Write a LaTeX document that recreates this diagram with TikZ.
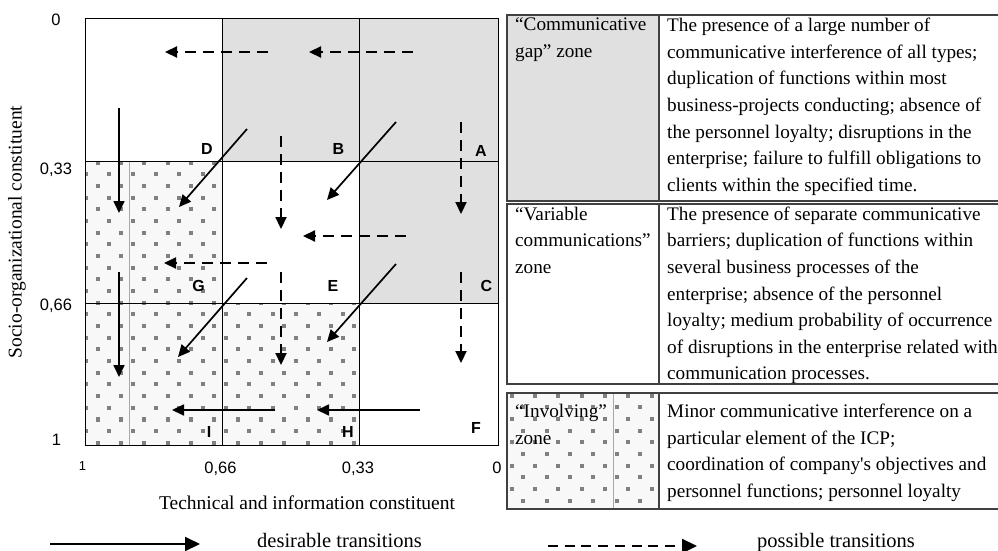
\documentclass[tikz,border=0pt]{standalone}
\usepackage{fontspec}
\setmainfont{Liberation Serif}
\newfontfamily\sansf{Liberation Sans}
\usetikzlibrary{arrows.meta}
\definecolor{zonegray}{HTML}{E0E0E0}
\definecolor{dotbg}{HTML}{F8F8F8}
\definecolor{dotsq}{HTML}{808080}
\definecolor{boxline}{HTML}{404040}
\definecolor{thingray}{HTML}{A8A8A8}
\begin{document}
\begin{tikzpicture}[x=1pt,y=-1pt,
  gridline/.style={line width=1pt, black},
  boxedge/.style={line width=1.3pt, boxline},
  desir/.style={line width=1.7pt, -{Triangle[length=12pt,width=11pt]}},
  possib/.style={line width=2.2pt, dash pattern=on 11pt off 7pt, -{Triangle[length=12pt,width=11pt]}},
  cellletter/.style={font=\sansf\bfseries\fontsize{16}{16}\selectfont, anchor=base, inner sep=0},
  axisnum/.style={font=\sansf\fontsize{16.5}{16.5}\selectfont, anchor=base, inner sep=0},
  desc/.style={font=\fontsize{19.2}{26.6}\selectfont, align=left, anchor=north west, inner sep=0},
  axislabel/.style={font=\fontsize{19.5}{19.5}\selectfont, inner sep=0},
  legendtxt/.style={font=\fontsize{20.5}{20.5}\selectfont, anchor=base west, inner sep=0},
]
\useasboundingbox (0,0) rectangle (998,551);
\fill[white] (0,0) rectangle (998,551);

% ---- grid cells ----
\fill[zonegray] (222,19) rectangle (498,161);
\fill[zonegray] (359,161) rectangle (498,303);

\begin{scope}
  \clip (85,161) rectangle (222,445) (222,303) rectangle (359,445);
  \fill[dotbg] (85,161) rectangle (359,445);
  \foreach \k in {-13,...,13}{
    \pgfmathsetmacro{\yy}{302.7+11.67*\k}
    \pgfmathsetmacro{\xo}{97.7-11.67*mod(abs(\k),2)}
    \foreach \m in {-1,...,12}{
      \fill[dotsq] ({\xo+23.33*\m-2.1},{\yy-2.1}) rectangle +(4.2,4.2);
    }
  }
\end{scope}
\draw[thingray, line width=0.8pt] (129,161) -- (129,445);

\draw[gridline] (85,19) rectangle (498,445);
\draw[gridline] (222,19) -- (222,445);
\draw[gridline] (359,19) -- (359,445);
\draw[gridline] (85,161) -- (498,161);
\draw[gridline] (85,303) -- (498,303);

% ---- cell letters ----
\node[cellletter] (lD) at (207,154) {D};
\node[cellletter] (lB) at (338.5,154) {B};
\node[cellletter] (lA) at (481,156) {A};
\node[cellletter] (lG) at (198.5,291) {G};
\node[cellletter] (lE) at (333,291) {E};
\node[cellletter] (lC) at (486.5,291) {C};
\node[cellletter] (lI) at (209,437) {I};
\node[cellletter] (lH) at (348,437) {H};
\node[cellletter] (lF) at (476,433) {F};

% ---- axis numbers ----
\node[axisnum] (y0) at (56,26) {0};
\node[axisnum] (y33) at (56,174) {0,33};
\node[axisnum] (y66) at (56,310) {0,66};
\node[axisnum] (y1) at (56.5,445) {1};
\node[axisnum, font=\sansf\fontsize{13}{13}\selectfont] (x1) at (82.5,470) {1};
\node[axisnum] (x66) at (220.5,473) {0,66};
\node[axisnum] (x33) at (358,473) {0,33};
\node[axisnum] (x0) at (497,473) {0};

\node[axislabel, rotate=90] (ylab) at (17,232) {Socio-organizational constituent};
\node[axislabel] (xlab) at (307,503) {Technical and information constituent};

% ---- arrow end points ----
\coordinate (s1a) at (119,108); \coordinate (s1b) at (119,213);
\coordinate (s2a) at (247,129); \coordinate (s2b) at (179,207);
\coordinate (s3a) at (396,122); \coordinate (s3b) at (327,200);
\coordinate (s4a) at (119,272); \coordinate (s4b) at (119,377);
\coordinate (s5a) at (247,278); \coordinate (s5b) at (178,357);
\coordinate (s6a) at (396,264); \coordinate (s6b) at (327,342);
\coordinate (s7a) at (275,410); \coordinate (s7b) at (172,410);
\coordinate (s8a) at (420,410); \coordinate (s8b) at (317,410);

\coordinate (d1a) at (268,52); \coordinate (d1b) at (165,52);
\coordinate (d2a) at (413,52); \coordinate (d2b) at (309,52);
\coordinate (d3a) at (281,136); \coordinate (d3b) at (281,229);
\coordinate (d4a) at (461,122); \coordinate (d4b) at (461,214);
\coordinate (d5a) at (406,236); \coordinate (d5b) at (303,236);
\coordinate (d6a) at (267,263); \coordinate (d6b) at (164,263);
\coordinate (d7a) at (281,272); \coordinate (d7b) at (281,365);
\coordinate (d8a) at (461,272); \coordinate (d8b) at (461,363);

\foreach \i in {1,...,8}{\draw[desir] (s\i a) -- (s\i b);}
\foreach \i in {1,...,8}{\draw[possib] (d\i a) -- (d\i b);}

% ---- legend boxes ----
\fill[zonegray] (507,15) rectangle (659,201);
\begin{scope}
  \clip (507,393) rectangle (659,509);
  \fill[dotbg] (507,393) rectangle (659,509);
  \foreach \k in {0,...,10}{
    \pgfmathsetmacro{\yy}{395.7+11.67*\k}
    \pgfmathsetmacro{\xo}{511.7+11.67*mod(\k,2)}
    \foreach \m in {-1,...,7}{
      \fill[dotsq] ({\xo+23.33*\m-2.1},{\yy-2.1}) rectangle +(4.2,4.2);
    }
  }
\end{scope}
\draw[thingray, line width=0.8pt] (613,393) -- (613,509);

\draw[boxedge] (1010,15) -- (507,15) -- (507,201) -- (1010,201);
\draw[boxedge] (659,15) -- (659,201);
\draw[boxedge] (1010,204) -- (507,204) -- (507,384) -- (1010,384);
\draw[boxedge] (659,204) -- (659,384);
\draw[boxedge] (1010,393) -- (507,393) -- (507,509) -- (1010,509);
\draw[boxedge] (659,393) -- (659,509);

\node[desc] (gapname) at (515,18) {“Communicative\\gap” zone};
\node[desc] (gaptext) at (667,18) {The presence of a large number of\\communicative interference of all types;\\duplication of functions within most\\business-projects conducting; absence of\\the personnel loyalty; disruptions in the\\enterprise; failure to fulfill obligations to\\clients within the specified time.};

\node[desc] (varname) at (515,206.5) {“Variable\\communications”\\zone};
\node[desc] (vartext) at (667,206.5) {The presence of separate communicative\\barriers; duplication of functions within\\several business processes of the\\enterprise; absence of the personnel\\loyalty; medium probability of occurrence\\of disruptions in the enterprise related with\\communication processes.};

\node[desc] (invname) at (515,404) {“Involving”\\zone};
\node[desc] (invtext) at (667,404) {Minor communicative interference on a\\particular element of the ICP;\\coordination of company\textquotesingle s objectives and\\personnel functions; personnel loyalty};

% ---- transition legend ----
\coordinate (ldsa) at (50,544); \coordinate (ldsb) at (200,544);
\draw[line width=2pt, -{Triangle[length=15pt,width=14pt]}] (ldsa) -- (ldsb);
\node[legendtxt] (desirtxt) at (257,547) {desirable transitions};
\coordinate (lpsa) at (548,546); \coordinate (lpsb) at (697,546);
\draw[line width=2.3pt, dash pattern=on 10pt off 6.7pt, -{Triangle[length=15pt,width=14pt]}] (lpsa) -- (lpsb);
\node[legendtxt] (posstxt) at (757,547) {possible transitions};
\end{tikzpicture}
\end{document}
